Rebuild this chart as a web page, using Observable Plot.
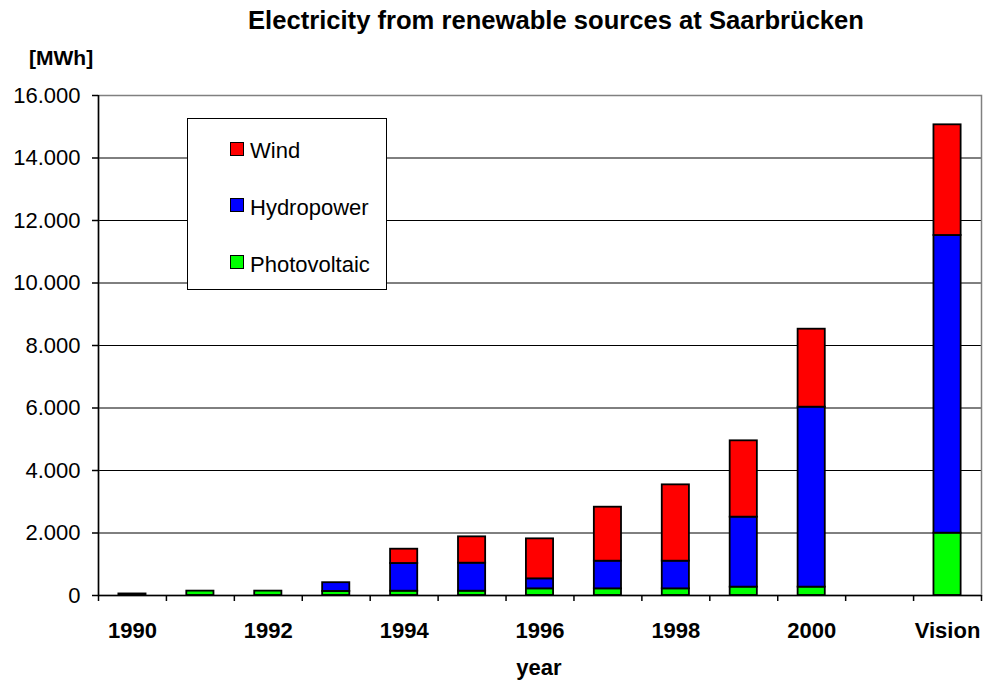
<!DOCTYPE html>
<html><head><meta charset="utf-8">
<script src="https://cdn.jsdelivr.net/npm/d3@7"></script>
<script src="https://cdn.jsdelivr.net/npm/@observablehq/plot@0.6"></script>
<style>
body{margin:0;background:#fff;font-family:"Liberation Sans",Arial,sans-serif;}
#wrap{position:relative;width:984px;height:682px;overflow:hidden;}
#wrap svg{position:absolute;left:0;top:0;}
.t{position:absolute;line-height:1;white-space:nowrap;color:#000;}
#legend{position:absolute;left:187px;top:118px;width:200px;height:172px;box-sizing:border-box;border:1.5px solid #000;background:#fff;}
.sw{position:absolute;width:14px;height:14px;box-sizing:border-box;border:1.5px solid #000;}
</style></head><body><div id="wrap"></div>
<script>
const categories = ["1990","1991","1992","1993","1994","1995","1996","1997","1998","1999","2000","","Vision"];
const labelIndex = [0, 2, 4, 6, 8, 10, 12];
const photovoltaic = [50, 140, 140, 130, 138, 138, 213, 213, 213, 267, 267, 0, 1994];
const hydropower   = [0, 0, 0, 280, 886, 896, 320, 885, 885, 2240, 5759, 0, 9526];
const wind         = [0, 0, 0, 0, 458, 843, 1280, 1728, 2443, 2443, 2496, 0, 3542];
const yTicks = [0, 2000, 4000, 6000, 8000, 10000, 12000, 14000, 16000];
const seriesNames = ["Wind", "Hydropower", "Photovoltaic"];
const seriesColors = ["#ff0000", "#0000ff", "#00ff00"];

const stackOrder = [["Photovoltaic", photovoltaic], ["Hydropower", hydropower], ["Wind", wind]];
const rows = [];
categories.forEach((c, i) => {
  let base = 0;
  for (const [source, values] of stackOrder) {
    const v = values[i];
    if (v > 0) rows.push({i, source, y1: base, y2: base + v});
    base += v;
  }
});
const boundaries = d3.range(categories.length + 1).map(k => k - 0.5);
const fmt = d3.formatLocale({decimal: ",", thousands: ".", grouping: [3], currency: ["", ""]}).format(",");
const FONT = '"Liberation Sans", Arial, sans-serif';

const chart = Plot.plot({
  width: 984, height: 682,
  marginLeft: 98, marginRight: 3, marginTop: 95, marginBottom: 87,
  style: {fontFamily: FONT, fontSize: "22px", color: "black", background: "white", overflow: "visible"},
  x: {domain: [-0.5, categories.length - 0.5], axis: null},
  y: {domain: [0, 16000], axis: null},
  color: {domain: seriesNames, range: seriesColors},
  marks: [
    Plot.ruleY(yTicks.filter(v => v > 0 && v < 16000), {stroke: "black", strokeWidth: 1}),
    Plot.frame({stroke: "#808080", strokeWidth: 1.5}),
    Plot.rect(rows, {x1: d => d.i - 0.2, x2: d => d.i + 0.2, y1: "y1", y2: "y2", fill: "source", stroke: "black", strokeWidth: 1.8}),
    Plot.ruleX([-0.5], {stroke: "black", strokeWidth: 1.5}),
    Plot.ruleY([0], {stroke: "black", strokeWidth: 1.5}),
    Plot.axisY(yTicks, {tickSize: 6, tickPadding: 12, tickFormat: fmt, label: null, strokeWidth: 1.5, fontSize: 22}),
    Plot.axisX(boundaries, {tickSize: 6, tickFormat: () => "", label: null, strokeWidth: 1.5}),
    Plot.axisX(labelIndex, {tickSize: 0, tickPadding: 27, tickFormat: i => categories[i], fontWeight: "bold", fontSize: 22, label: null})
  ]
});
const wrap = document.getElementById("wrap");
wrap.appendChild(chart);

function addText(txt, style) {
  const d = document.createElement("div");
  d.className = "t";
  d.textContent = txt;
  Object.assign(d.style, style);
  wrap.appendChild(d);
  return d;
}
addText("Electricity from renewable sources at Saarbrücken", {left: "556px", top: "8px", fontSize: "25.6px", fontWeight: "bold", transform: "translateX(-50%)"});
addText("[MWh]", {left: "29px", top: "47px", fontSize: "21px", fontWeight: "bold"});
addText("year", {left: "539px", top: "657px", fontSize: "22px", fontWeight: "bold", transform: "translateX(-50%)"});

const legend = document.createElement("div");
legend.id = "legend";
wrap.appendChild(legend);
seriesNames.forEach((name, k) => {
  const cy = 147.7 + k * 56.7;
  const sw = document.createElement("div");
  sw.className = "sw";
  sw.style.left = (229 - 187) + "px";
  sw.style.top = (cy - 7 - 118) + "px";
  sw.style.background = seriesColors[k];
  legend.appendChild(sw);
  const t = document.createElement("div");
  t.className = "t";
  t.textContent = name;
  t.style.fontSize = "22px";
  t.style.left = (249 - 187) + "px";
  t.style.top = (cy + 10.3 - 18.6 - 118) + "px";
  legend.appendChild(t);
});
</script>
</body></html>
